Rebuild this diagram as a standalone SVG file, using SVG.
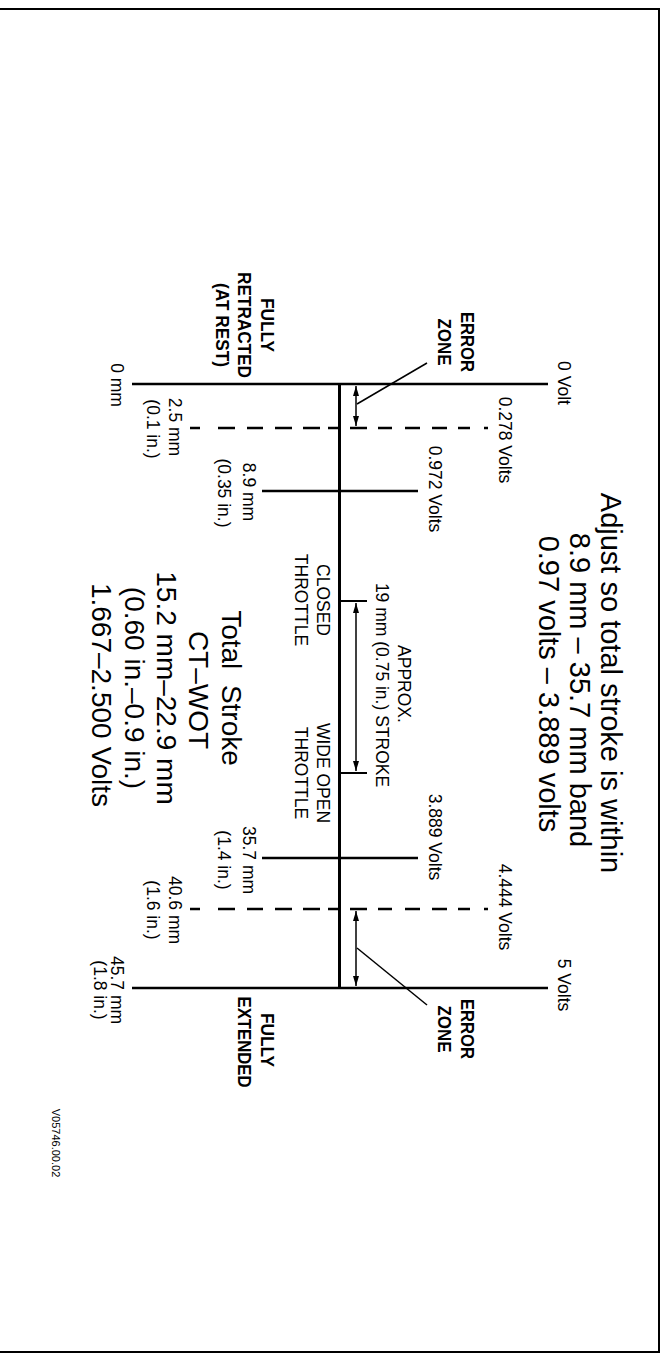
<svg xmlns="http://www.w3.org/2000/svg" width="661" height="1355" viewBox="0 0 661 1355">
<style>
text{font-family:"Liberation Sans",Arial,Helvetica,sans-serif;fill:#000;text-anchor:middle}
.s{font-size:17.5px}
.b{font-size:19px;font-weight:bold}
.t{font-size:29px}
.m{font-size:28px}
.id{font-size:11px}
.ln{stroke:#000;stroke-width:2.5;fill:none}
.ax{stroke:#000;stroke-width:3;fill:none}
.th{stroke:#000;stroke-width:1.5;fill:none}
.tk{stroke:#000;stroke-width:2;fill:none}
</style>
<defs>
<marker id="ah" viewBox="0 0 10 6" refX="10" refY="3" markerWidth="10" markerHeight="6" markerUnits="userSpaceOnUse" orient="auto-start-reverse"><path d="M0,0 L10,3 L0,6 Z" fill="#000"/></marker>
</defs>
<rect width="661" height="1355" fill="#fff"/>
<path id="border" d="M0,9 H659 V1352 H0" fill="none" stroke="#000" stroke-width="2"/>

<g id="scale-lines">
<path class="ln" d="M132,384 H548"/>
<path class="ln" d="M132,988 H548"/>
<path class="ax" d="M339.5,384 V988"/>
<path class="ln" d="M262,491 H418"/>
<path class="ln" d="M262,858 H418"/>
<path class="ln" d="M190,428 H200 M218,428 H235 M247,428 H263 M275,428 H292 M303,428 H320 M328,428 H338 M350,428 H367 M378,428 H392 M405,428 H420 M432,428 H447 M458,428 H470 M484,428 H488"/>
<path class="ln" d="M190,909 H200 M218,909 H235 M247,909 H263 M275,909 H292 M303,909 H320 M328,909 H338 M350,909 H367 M378,909 H392 M405,909 H420 M432,909 H447 M458,909 H470 M484,909 H488"/>
<path class="tk" d="M339,601 H367 M339,773 H367"/>
</g>

<g id="connectors">
<path class="th" d="M356,386 V426" marker-start="url(#ah)" marker-end="url(#ah)"/>
<path class="th" d="M357,404 L427,363"/>
<path class="th" d="M356,911 V986" marker-start="url(#ah)" marker-end="url(#ah)"/>
<path class="th" d="M357,948 L427,1005"/>
<path class="th" d="M356,603 V771" marker-start="url(#ah)" marker-end="url(#ah)"/>
</g>

<g id="title">
<text class="t" transform="translate(601,683) rotate(90)">Adjust so total stroke is within</text>
<text class="t" transform="translate(570,690) rotate(90)">8.9 mm – 35.7 mm band</text>
<text class="t" transform="translate(539,684) rotate(90)">0.97 volts – 3.889 volts</text>
</g>

<g id="volt-labels">
<text class="s" transform="translate(558,383) rotate(90)">0 Volt</text>
<text class="s" transform="translate(499,440) rotate(90)">0.278 Volts</text>
<text class="s" transform="translate(429,489) rotate(90)">0.972 Volts</text>
<text class="s" transform="translate(429,837) rotate(90)">3.889 Volts</text>
<text class="s" transform="translate(499,907) rotate(90)">4.444 Volts</text>
<text class="s" transform="translate(558,985) rotate(90)">5 Volts</text>
</g>

<g id="mm-labels">
<text class="s" transform="translate(111,385) rotate(90)">0 mm</text>
<text class="s" transform="translate(169,427) rotate(90)">2.5 mm</text>
<text class="s" transform="translate(147,429) rotate(90)">(0.1 in.)</text>
<text class="s" transform="translate(243,492) rotate(90)">8.9 mm</text>
<text class="s" transform="translate(218,493) rotate(90)">(0.35 in.)</text>
<text class="s" transform="translate(243,860) rotate(90)">35.7 mm</text>
<text class="s" transform="translate(218,860) rotate(90)">(1.4 in.)</text>
<text class="s" transform="translate(169,910) rotate(90)">40.6 mm</text>
<text class="s" transform="translate(147,910) rotate(90)">(1.6 in.)</text>
<text class="s" transform="translate(111,990) rotate(90)">45.7 mm</text>
<text class="s" transform="translate(94,990) rotate(90)">(1.8 in.)</text>
</g>

<g id="fully-retracted">
<text class="b" transform="translate(261,325) rotate(90)" textLength="54" lengthAdjust="spacingAndGlyphs">FULLY</text>
<text class="b" transform="translate(238,325) rotate(90)" textLength="106" lengthAdjust="spacingAndGlyphs">RETRACTED</text>
<text class="b" transform="translate(216,325) rotate(90)" textLength="84" lengthAdjust="spacingAndGlyphs">(AT REST)</text>
</g>

<g id="fully-extended">
<text class="b" transform="translate(261,1040) rotate(90)" textLength="54" lengthAdjust="spacingAndGlyphs">FULLY</text>
<text class="b" transform="translate(238,1042) rotate(90)" textLength="91" lengthAdjust="spacingAndGlyphs">EXTENDED</text>
</g>

<g id="error-zone-top">
<text class="b" transform="translate(461,342) rotate(90)" textLength="60" lengthAdjust="spacingAndGlyphs">ERROR</text>
<text class="b" transform="translate(438,342) rotate(90)" textLength="47" lengthAdjust="spacingAndGlyphs">ZONE</text>
</g>

<g id="error-zone-bottom">
<text class="b" transform="translate(461,1029) rotate(90)" textLength="60" lengthAdjust="spacingAndGlyphs">ERROR</text>
<text class="b" transform="translate(438,1029) rotate(90)" textLength="47" lengthAdjust="spacingAndGlyphs">ZONE</text>
</g>

<g id="closed-throttle">
<text class="s" transform="translate(317,600) rotate(90)">CLOSED</text>
<text class="s" transform="translate(295,600) rotate(90)">THROTTLE</text>
</g>

<g id="wide-open-throttle">
<text class="s" transform="translate(317,773) rotate(90)">WIDE OPEN</text>
<text class="s" transform="translate(295,773) rotate(90)">THROTTLE</text>
</g>

<g id="approx-stroke">
<text class="s" transform="translate(398,684) rotate(90)">APPROX.</text>
<text class="s" transform="translate(376,685) rotate(90)">19 mm (0.75 in.) STROKE</text>
</g>

<g id="total-stroke">
<text class="m" transform="translate(222,688) rotate(90)">Total&#160; Stroke</text>
<text class="m" transform="translate(189,690) rotate(90)">CT–WOT</text>
<text class="m" transform="translate(157,688) rotate(90)">15.2 mm–22.9 mm</text>
<text class="m" transform="translate(125,688) rotate(90)">(0.60 in.–0.9 in.)</text>
<text class="m" transform="translate(92,695) rotate(90)">1.667–2.500 Volts</text>
</g>

<g id="figure-id">
<text class="id" transform="translate(52,1143) rotate(90)">V05746.00.02</text>
</g>
</svg>
